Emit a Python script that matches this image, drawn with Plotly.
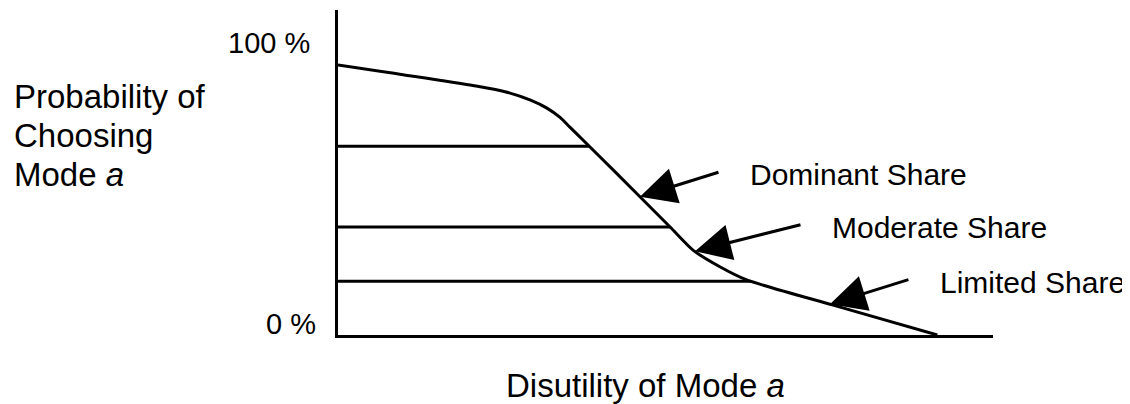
import numpy as np
import plotly.graph_objects as go

# curve (x: disutility 0-100, y: probability %)
curve_x = [0, 21.7, 25.5, 29.3, 31.9, 33.9, 35.4, 37.4, 42.0, 50.7, 54.2, 58.3, 62.4, 75.6, 91.5]
curve_y = [92.2, 84.8, 83.1, 80.3, 77.5, 74.3, 71.0, 66.6, 56.4, 36.9, 29.0, 23.3, 18.8, 10.2, 0]

# horizontal share levels
share_levels = [64.5, 36.9, 18.4]

# arrow annotations
share_names = ["Dominant Share", "Moderate Share", "Limited Share"]
arrow_tip_x = [46.1, 54.5, 75.1]

tick_vals = [100, 0]
tick_labels = ["100 %", "0 %"]

y_title = ["Probability of", "Choosing", "Mode <i>a</i>"]
x_title = "Disutility of Mode <i>a</i>"

FONT = "Liberation Sans, Arial, Helvetica, sans-serif"

fig = go.Figure()

fig.add_trace(go.Scatter(x=curve_x, y=curve_y, mode="lines",
                         line=dict(color="black", width=3, shape="spline", smoothing=0.6),
                         hoverinfo="skip", showlegend=False))

rx = np.array(curve_x[::-1])
ry = np.array(curve_y[::-1])
for lvl in share_levels:
    xe = float(np.interp(lvl, ry, rx))
    fig.add_trace(go.Scatter(x=[0, xe], y=[lvl, lvl], mode="lines",
                             line=dict(color="black", width=3),
                             hoverinfo="skip", showlegend=False))

# arrow tail offsets in pixels
offsets = [(80, -25), (107, -27), (80, -25)]
for name, tx, (ax, ay) in zip(share_names, arrow_tip_x, offsets):
    ty = float(np.interp(tx, curve_x, curve_y))
    fig.add_annotation(x=tx, y=ty, xref="x", yref="y", text="", showarrow=True,
                       ax=ax, ay=ay, arrowhead=2, arrowsize=2.4, arrowwidth=3,
                       arrowcolor="black", standoff=0, startstandoff=0)
    fig.add_annotation(x=tx, y=ty, xref="x", yref="y", text=name, showarrow=False,
                       xanchor="left", yanchor="middle", xshift=ax + 28, yshift=-(ay + 3),
                       font=dict(size=30, color="black", family=FONT))

for v, lab, xp, ys in zip(tick_vals, tick_labels, [-0.0397, -0.0305], [-1, 11]):
    fig.add_annotation(x=xp, y=v, xref="paper", yref="y", text=lab, showarrow=False,
                       xanchor="right", yanchor="middle", yshift=ys,
                       font=dict(size=29, color="black", family=FONT))

for i, line in enumerate(y_title):
    fig.add_annotation(x=-0.498, y=81.5 - 13.3 * i, xref="paper", yref="y", text=line,
                       showarrow=False, xanchor="left", yanchor="middle",
                       font=dict(size=33, color="black", family=FONT))

fig.add_annotation(x=47.0, y=-0.155, xref="x", yref="paper", text=x_title, showarrow=False,
                   xanchor="center", yanchor="middle",
                   font=dict(size=33, color="black", family=FONT))

fig.update_xaxes(range=[0, 100], showline=True, linewidth=3, linecolor="black",
                 showgrid=False, zeroline=False, showticklabels=False, ticks="")
fig.update_yaxes(range=[0, 111], showline=True, linewidth=3, linecolor="black",
                 showgrid=False, zeroline=False, showticklabels=False, ticks="")

# the page body adds an 8px margin, so the figure is drawn 8px smaller
fig.update_layout(width=1122, height=396, margin=dict(l=330, r=137, t=2, b=69),
                  paper_bgcolor="white", plot_bgcolor="white",
                  font=dict(family=FONT, color="black"))

fig.write_html("out.html")
